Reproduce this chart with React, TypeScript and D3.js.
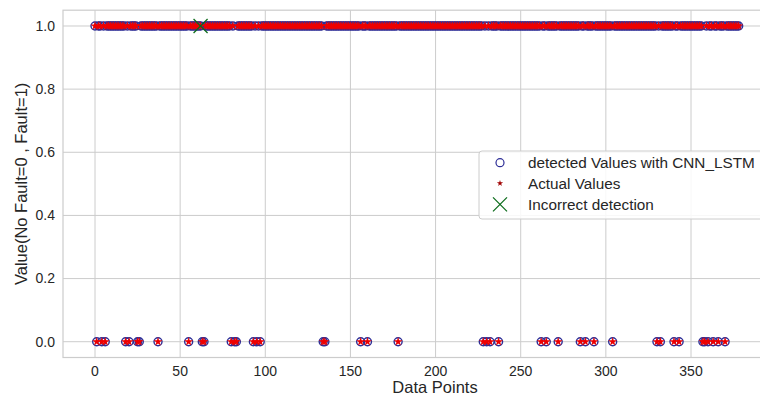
import React from "react";
import * as d3 from "d3";

// ---- data ----
const pointCount = 379; // data points 0..378
const noFaultPoints = [
  1, 4, 6, 18, 20, 25, 26, 37, 55, 63, 64, 80, 82, 83, 93, 95, 97, 134, 135,
  156, 160, 178, 228, 230, 232, 237, 262, 265, 272, 285, 288, 293, 304, 330,
  332, 340, 343, 357, 358, 360, 363, 366, 370,
];
const incorrectPoints = [62];
const xTicks = [0, 50, 100, 150, 200, 250, 300, 350];
const yTicks = [0, 0.2, 0.4, 0.6, 0.8, 1.0];
const legendLabels = [
  "detected Values with CNN_LSTM",
  "Actual Values",
  "Incorrect detection",
];

const indices = d3.range(pointCount);
const detected = indices.map((i) => ({ x: i, y: noFaultPoints.includes(i) ? 0 : 1 }));
const actual = indices.map((i) => ({ x: i, y: noFaultPoints.includes(i) ? 0 : 1 }));
const incorrect = incorrectPoints.map((i) => ({ x: i, y: 1 }));

const W = 760;
const H = 398;
const margin = { left: 63, top: 10.2, right: 807, bottom: 357.5 };
const FONT = "'Liberation Sans', Arial, sans-serif";
const GRID = "#cccccc";
const CIRCLE = "#2d2d96";
const STAR = "#ee0000";
const XCOL = "#0b6b1a";
const TXT = "#262626";

export default function App() {
  // x scale: 0 -> 95px, 350 -> 691px
  const x = d3.scaleLinear().domain([0, 350]).range([95, 691]);
  const y = d3.scaleLinear().domain([-0.05, 1.05]).range([margin.bottom, margin.top]);
  const star = d3.symbol().type(d3.symbolStar).size(24)()!;
  const starLegend = d3.symbol().type(d3.symbolStar).size(12)()!;

  const legX = 479;
  const legY = 151;
  const rowY = [162.7, 183.3, 204.3];

  return (
    <svg
      width={W}
      height={H}
      style={{ position: "absolute", left: 0, top: 0, display: "block", background: "#fff" }}
      fontFamily={FONT}
    >
      {/* grid */}
      {xTicks.map((t) => (
        <line key={"gx" + t} x1={x(t)} x2={x(t)} y1={margin.top} y2={margin.bottom} stroke={GRID} strokeWidth={1} />
      ))}
      {yTicks.map((t) => (
        <line key={"gy" + t} x1={margin.left} x2={margin.right} y1={y(t)} y2={y(t)} stroke={GRID} strokeWidth={1} />
      ))}
      {/* frame */}
      <rect
        x={margin.left}
        y={margin.top}
        width={margin.right - margin.left}
        height={margin.bottom - margin.top}
        fill="none"
        stroke={GRID}
        strokeWidth={1.2}
      />
      {/* detected circles */}
      {detected.map((d) => (
        <circle key={"c" + d.x} cx={x(d.x)} cy={y(d.y)} r={4} fill="none" stroke={CIRCLE} strokeWidth={1.4} />
      ))}
      {/* actual stars */}
      {actual.map((d) => (
        <path key={"s" + d.x} d={star} transform={`translate(${x(d.x)},${y(d.y)})`} fill={STAR} />
      ))}
      {/* incorrect detection */}
      {incorrect.map((d) => (
        <g key={"x" + d.x} transform={`translate(${x(d.x)},${y(d.y)})`} stroke={XCOL} strokeWidth={1.2}>
          <line x1={-7} y1={-7} x2={7} y2={7} />
          <line x1={-7} y1={7} x2={7} y2={-7} />
        </g>
      ))}
      {/* y tick labels */}
      {yTicks.map((t) => (
        <text key={"ty" + t} x={55} y={y(t)} dy="0.35em" textAnchor="end" fontSize={14} fill={TXT}>
          {t.toFixed(1)}
        </text>
      ))}
      {/* x tick labels */}
      {xTicks.map((t) => (
        <text key={"tx" + t} x={x(t)} y={376} textAnchor="middle" fontSize={14} fill={TXT}>
          {t}
        </text>
      ))}
      <text x={(margin.left + margin.right) / 2} y={393} textAnchor="middle" fontSize={16.5} fill={TXT}>
        Data Points
      </text>
      <text
        transform={`translate(27,${(margin.top + margin.bottom) / 2}) rotate(-90)`}
        textAnchor="middle"
        fontSize={16.5}
        fill={TXT}
      >
        Value(No Fault=0 , Fault=1)
      </text>
      {/* legend */}
      <rect x={legX} y={legY} width={300} height={68} rx={3} fill="#ffffff" fillOpacity={0.85} stroke={GRID} strokeWidth={1} />
      <circle cx={500} cy={rowY[0]} r={4} fill="none" stroke={CIRCLE} strokeWidth={1.2} />
      <path d={starLegend} transform={`translate(500,${rowY[1]})`} fill="#a00000" />
      <g transform={`translate(500,${rowY[2]})`} stroke={XCOL} strokeWidth={1.2}>
        <line x1={-7} y1={-7} x2={7} y2={7} />
        <line x1={-7} y1={7} x2={7} y2={-7} />
      </g>
      {legendLabels.map((l, i) => (
        <text key={l} x={528} y={rowY[i]} dy="0.35em" fontSize={15.3} fill={TXT}>
          {l}
        </text>
      ))}
    </svg>
  );
}
